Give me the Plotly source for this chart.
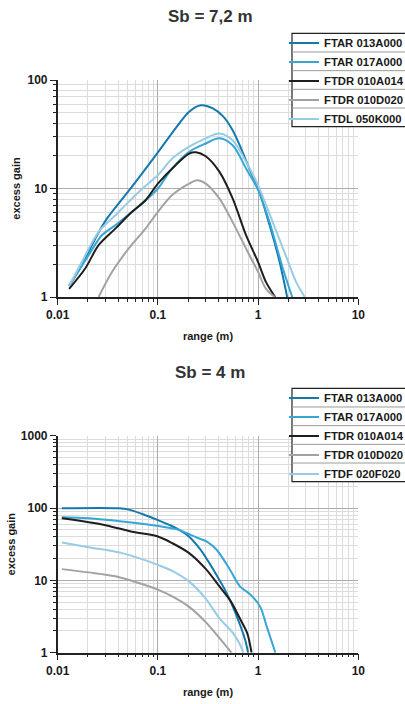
import plotly.graph_objects as go

# ---------------- data: top chart (Sb = 7,2 m) ----------------
top_title = "Sb = 7,2 m"
top_names = ["FTAR 013A000", "FTAR 017A000", "FTDR 010A014", "FTDR 010D020", "FTDL 050K000"]

top_x_ftar013 = [0.013, 0.0174, 0.0237, 0.031, 0.0552, 0.1, 0.15, 0.205, 0.268, 0.35, 0.45, 0.557, 0.65, 0.8, 1.0, 1.3, 1.64, 1.95]
top_y_ftar013 = [1.26, 1.96, 3.45, 5.28, 10.4, 21.5, 35.8, 51, 58.5, 55, 46, 34.5, 25.5, 16, 10, 4.6, 2.1, 1.0]

top_x_ftar017 = [0.013, 0.0203, 0.0276, 0.0376, 0.0512, 0.0697, 0.1, 0.139, 0.205, 0.30, 0.41, 0.557, 0.758, 1.0, 1.3, 1.77, 2.19]
top_y_ftar017 = [1.28, 2.42, 3.71, 4.58, 5.75, 7.27, 10, 15.3, 21.8, 26, 29, 25, 15.3, 9.7, 4.9, 1.82, 1.0]

top_x_ftdr014 = [0.013, 0.0188, 0.0256, 0.0376, 0.0552, 0.0752, 0.1, 0.15, 0.205, 0.24, 0.30, 0.41, 0.557, 0.758, 1.0, 1.2, 1.48]
top_y_ftdr014 = [1.19, 1.83, 3.0, 4.27, 6.1, 7.8, 11.1, 16.4, 21, 21.6, 19.8, 14.3, 8.1, 3.71, 2.1, 1.37, 1.0]

top_x_ftdr020 = [0.0256, 0.0348, 0.0512, 0.0752, 0.1, 0.139, 0.205, 0.245, 0.30, 0.41, 0.557, 0.758, 1.0, 1.2, 1.47]
top_y_ftdr020 = [1.0, 1.7, 2.8, 4.27, 6.1, 8.7, 11.1, 11.9, 11.1, 8.1, 4.9, 2.8, 1.7, 1.19, 1.0]

top_x_ftdl050 = [0.013, 0.0174, 0.0256, 0.0376, 0.0644, 0.1, 0.139, 0.205, 0.30, 0.41, 0.557, 0.758, 1.0, 1.4, 1.91, 2.4, 2.92]
top_y_ftdl050 = [1.26, 2.1, 3.98, 5.67, 9.3, 13.3, 18.9, 24.3, 29, 32.2, 27.9, 17.6, 10.7, 4.9, 2.34, 1.37, 1.0]

# ---------------- data: bottom chart (Sb = 4 m) ----------------
bot_title = "Sb = 4 m"
bot_names = ["FTAR 013A000", "FTAR 017A000", "FTDR 010A014", "FTDR 010D020", "FTDF 020F020"]

bot_x_ftar013 = [0.011, 0.0406, 0.0512, 0.0697, 0.1, 0.139, 0.165, 0.2, 0.264, 0.359, 0.487, 0.614, 0.743, 0.794]
bot_y_ftar013 = [99, 99, 95, 82.6, 68, 56, 49.5, 41.5, 27, 13.9, 6.6, 3.15, 1.5, 1.0]

bot_x_ftar017 = [0.011, 0.0203, 0.0438, 0.1, 0.163, 0.195, 0.25, 0.308, 0.387, 0.526, 0.662, 0.834, 1.05, 1.22, 1.49]
bot_y_ftar017 = [74.5, 72, 65, 56.5, 49.8, 44.8, 38.5, 34.3, 26.3, 13.9, 8.2, 6.4, 4.3, 2.29, 1.0]

bot_x_ftdr014 = [0.011, 0.0299, 0.0552, 0.1, 0.139, 0.205, 0.30, 0.41, 0.53, 0.67, 0.78, 0.86]
bot_y_ftdr014 = [72, 58, 47, 40.4, 32.7, 23.8, 14.4, 8.3, 5.2, 2.83, 1.85, 1.0]

bot_x_ftdr020 = [0.011, 0.0203, 0.0376, 0.0644, 0.1, 0.139, 0.205, 0.30, 0.41, 0.542]
bot_y_ftdr020 = [14.3, 12.9, 11.4, 9.2, 7.45, 6.0, 4.3, 2.65, 1.6, 1.0]

bot_x_ftdf020 = [0.011, 0.0203, 0.0438, 0.0644, 0.1, 0.139, 0.205, 0.30, 0.41, 0.557, 0.65, 0.714]
bot_y_ftdf020 = [33.4, 28.8, 23.8, 20.3, 16.4, 13.5, 9.6, 5.6, 3.0, 1.9, 1.35, 1.0]

# ---------------- ticks ----------------
x_tickvals = [0.01, 0.1, 1, 10]
x_ticktext = ["0.01", "0.1", "1", "10"]
x_minor = [m * d for d in (0.01, 0.1, 1) for m in range(2, 10)]
top_y_tickvals = [1, 10, 100]
top_y_ticktext = ["1", "10", "100"]
top_y_minor = [m * d for d in (1, 10) for m in range(2, 10)]
bot_y_tickvals = [1, 10, 100, 1000]
bot_y_ticktext = ["1", "10", "100", "1000"]
bot_y_minor = [m * d for d in (1, 10, 100) for m in range(2, 10)]

x_title = "range (m)"
y_title = "excess gain"

colors = ["#1379ad", "#35a6d6", "#1e1e1e", "#a2a2a2", "#98cbe4"]

FONT = "Liberation Sans, Arial, sans-serif"
W, H = 405, 704

fig = go.Figure()

top_xs = [top_x_ftar013, top_x_ftar017, top_x_ftdr014, top_x_ftdr020, top_x_ftdl050]
top_ys = [top_y_ftar013, top_y_ftar017, top_y_ftdr014, top_y_ftdr020, top_y_ftdl050]
bot_xs = [bot_x_ftar013, bot_x_ftar017, bot_x_ftdr014, bot_x_ftdr020, bot_x_ftdf020]
bot_ys = [bot_y_ftar013, bot_y_ftar017, bot_y_ftdr014, bot_y_ftdr020, bot_y_ftdf020]

for name, xs, ys, c in zip(top_names, top_xs, top_ys, colors):
    fig.add_trace(go.Scatter(x=xs, y=ys, name=name, mode="lines",
                             line=dict(color=c, width=2, shape="spline", smoothing=0.9),
                             xaxis="x", yaxis="y", legend="legend"))
for name, xs, ys, c in zip(bot_names, bot_xs, bot_ys, colors):
    fig.add_trace(go.Scatter(x=xs, y=ys, name=name, mode="lines",
                             line=dict(color=c, width=2, shape="spline", smoothing=0.9),
                             xaxis="x2", yaxis="y2", legend="legend2"))

XD = [57.7 / W, 358.3 / W]
TOP_YD = [1 - 297 / H, 1 - 80 / H]
BOT_YD = [1 - 652.7 / H, 1 - 435.7 / H]

tickfont = dict(family=FONT, size=12, color="#1a1a1a", weight="bold")
titlefont = dict(family=FONT, size=11, color="#1a1a1a", weight="bold")


def xaxis(anchor):
    return dict(type="log", range=[-2, 1], domain=XD, anchor=anchor,
                tickvals=x_tickvals, ticktext=x_ticktext, tickfont=tickfont,
                ticks="outside", ticklen=6, tickcolor="#222", tickwidth=1,
                showline=True, linecolor="#222", linewidth=1.5,
                showgrid=True, gridcolor="#acacac", gridwidth=1, zeroline=False,
                minor=dict(tickvals=x_minor, ticks="outside", ticklen=3, tickcolor="#222",
                           showgrid=True, gridcolor="#dcdcdc", gridwidth=1),
                title=dict(text=x_title, font=titlefont, standoff=11))


def yaxis(anchor, rng, dom, tv, tt, minor, standoff):
    return dict(type="log", range=rng, domain=dom, anchor=anchor,
                tickvals=tv, ticktext=tt, tickfont=tickfont,
                ticks="outside", ticklen=6, tickcolor="#222", tickwidth=1,
                showline=True, linecolor="#222", linewidth=1.5,
                showgrid=True, gridcolor="#acacac", gridwidth=1, zeroline=False,
                minor=dict(tickvals=minor, ticks="outside", ticklen=3, tickcolor="#222",
                           showgrid=True, gridcolor="#dcdcdc", gridwidth=1),
                title=dict(text=y_title, font=titlefont, standoff=standoff))


legend_common = dict(font=dict(family=FONT, size=11.3, color="#1a1a1a", weight="bold"),
                     bgcolor="rgba(0,0,0,0)", borderwidth=0,
                     xanchor="left", yanchor="top", tracegroupgap=0)

fig.update_layout(
    width=W, height=H,
    margin=dict(l=0, r=0, t=0, b=0, autoexpand=False),
    paper_bgcolor="white", plot_bgcolor="white",
    showlegend=True,
    xaxis=xaxis("y"),
    yaxis=yaxis("x", [0, 2], TOP_YD, top_y_tickvals, top_y_ticktext, top_y_minor, 5),
    xaxis2=xaxis("y2"),
    yaxis2=yaxis("x2", [0, 3], BOT_YD, bot_y_tickvals, bot_y_ticktext, bot_y_minor, 3),
    legend=dict(x=284 / W, y=1 - 28.5 / H, **legend_common),
    legend2=dict(x=284 / W, y=1 - 383.5 / H, **legend_common),
)

# chart titles
for txt, yc in ((top_title, 16.5), (bot_title, 372.5)):
    fig.add_annotation(text=txt, xref="paper", yref="paper", x=210 / W, y=1 - yc / H,
                       xanchor="center", yanchor="middle", showarrow=False,
                       font=dict(family=FONT, size=17, color="#333333", weight="bold"))

# legend frames with row separators
for top, bottom in ((33.3, 126.7), (388.3, 481.7)):
    fig.add_shape(type="rect", xref="paper", yref="paper",
                  x0=292 / W, x1=1.01, y0=1 - bottom / H, y1=1 - top / H,
                  line=dict(color="#222", width=1.2), fillcolor="white", layer="above")
    step = (bottom - top) / 5
    for i in range(1, 5):
        yy = top + i * step
        fig.add_shape(type="line", xref="paper", yref="paper",
                      x0=292 / W, x1=1.01, y0=1 - yy / H, y1=1 - yy / H,
                      line=dict(color="#9a9a9a", width=1), layer="above")

fig.write_html("out.html", config={"displayModeBar": False},
               post_script="document.body.style.margin='0';document.body.style.overflow='hidden';")
